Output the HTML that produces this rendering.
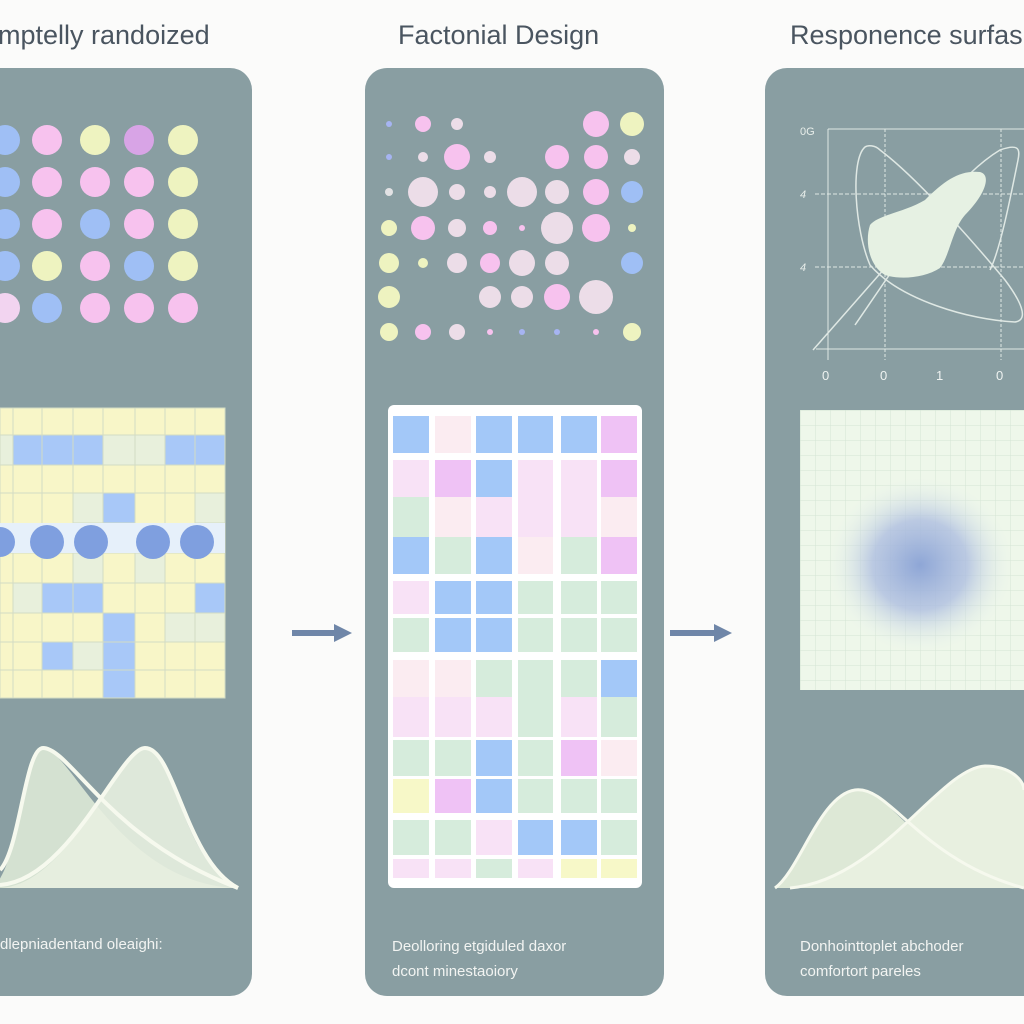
<!DOCTYPE html>
<html><head><meta charset="utf-8"><style>
html,body{margin:0;padding:0;background:#fbfbfa;}
svg{display:block;font-family:"Liberation Sans",sans-serif;}
</style></head><body>
<svg width="1024" height="1024" viewBox="0 0 1024 1024" xmlns="http://www.w3.org/2000/svg">
<rect width="1024" height="1024" fill="#fbfbfa"/>
<!-- titles -->
<text x="-2" y="44" font-size="27" fill="#4a5560">mptelly randoized</text>
<text x="398" y="44" font-size="27" fill="#4a5560">Factonial Design</text>
<text x="790" y="44" font-size="27" fill="#4a5560">Responence surfas</text>
<!-- panels -->
<rect x="-30" y="68" width="282" height="928" rx="22" fill="#899ea2"/>
<rect x="365" y="68" width="299" height="928" rx="22" fill="#899ea2"/>
<rect x="765" y="68" width="300" height="928" rx="22" fill="#899ea2"/>

<!-- panel 1 circles -->
<g>
<circle cx="5" cy="140" r="15" fill="#9fbff5"/><circle cx="47" cy="140" r="15" fill="#f7c2ee"/><circle cx="95" cy="140" r="15" fill="#eef3c0"/><circle cx="139" cy="140" r="15" fill="#d8a4e6"/><circle cx="183" cy="140" r="15" fill="#eef3c0"/>
<circle cx="5" cy="182" r="15" fill="#9fbff5"/><circle cx="47" cy="182" r="15" fill="#f7c2ee"/><circle cx="95" cy="182" r="15" fill="#f7c2ee"/><circle cx="139" cy="182" r="15" fill="#f7c2ee"/><circle cx="183" cy="182" r="15" fill="#eef3c0"/>
<circle cx="5" cy="224" r="15" fill="#9fbff5"/><circle cx="47" cy="224" r="15" fill="#f7c2ee"/><circle cx="95" cy="224" r="15" fill="#9fbff5"/><circle cx="139" cy="224" r="15" fill="#f7c2ee"/><circle cx="183" cy="224" r="15" fill="#eef3c0"/>
<circle cx="5" cy="266" r="15" fill="#9fbff5"/><circle cx="47" cy="266" r="15" fill="#eef3c0"/><circle cx="95" cy="266" r="15" fill="#f7c2ee"/><circle cx="139" cy="266" r="15" fill="#9fbff5"/><circle cx="183" cy="266" r="15" fill="#eef3c0"/>
<circle cx="5" cy="308" r="15" fill="#f2d4f0"/><circle cx="47" cy="308" r="15" fill="#9fbff5"/><circle cx="95" cy="308" r="15" fill="#f7c2ee"/><circle cx="139" cy="308" r="15" fill="#f7c2ee"/><circle cx="183" cy="308" r="15" fill="#f7c2ee"/>
</g>

<!-- panel 1 grid -->
<g stroke="#d2dcc4" stroke-width="1">
<rect x="0" y="408" width="225" height="290" fill="#f8f6c8"/>
<rect x="0" y="435" width="13" height="30" fill="#e8f0dc"/><rect x="13" y="435" width="90" height="30" fill="#a8c8f8"/><rect x="103" y="435" width="62" height="30" fill="#e8f0dc"/><rect x="165" y="435" width="60" height="30" fill="#a8c8f8"/>
<rect x="73" y="493" width="30" height="30" fill="#e8f0dc"/><rect x="103" y="493" width="32" height="30" fill="#a8c8f8"/><rect x="195" y="493" width="30" height="30" fill="#e8f0dc"/>
<rect x="73" y="553" width="30" height="30" fill="#e8f0dc"/><rect x="135" y="553" width="30" height="30" fill="#e8f0dc"/>
<rect x="13" y="583" width="29" height="30" fill="#e8f0dc"/><rect x="42" y="583" width="61" height="30" fill="#a8c8f8"/><rect x="195" y="583" width="30" height="30" fill="#a8c8f8"/>
<rect x="103" y="613" width="32" height="29" fill="#a8c8f8"/><rect x="165" y="613" width="60" height="29" fill="#e8f0dc"/>
<rect x="42" y="642" width="31" height="28" fill="#a8c8f8"/><rect x="73" y="642" width="30" height="28" fill="#e8f0dc"/><rect x="103" y="642" width="32" height="28" fill="#a8c8f8"/>
<rect x="103" y="670" width="32" height="28" fill="#a8c8f8"/>
</g>
<g stroke="#d2dcc4" stroke-width="1">
<line x1="13" y1="408" x2="13" y2="698"/><line x1="42" y1="408" x2="42" y2="698"/><line x1="73" y1="408" x2="73" y2="698"/><line x1="103" y1="408" x2="103" y2="698"/><line x1="135" y1="408" x2="135" y2="698"/><line x1="165" y1="408" x2="165" y2="698"/><line x1="195" y1="408" x2="195" y2="698"/>
<line x1="0" y1="435" x2="225" y2="435"/><line x1="0" y1="465" x2="225" y2="465"/><line x1="0" y1="493" x2="225" y2="493"/><line x1="0" y1="553" x2="225" y2="553"/><line x1="0" y1="583" x2="225" y2="583"/><line x1="0" y1="613" x2="225" y2="613"/><line x1="0" y1="642" x2="225" y2="642"/><line x1="0" y1="670" x2="225" y2="670"/>
</g>
<rect x="0" y="523" width="225" height="30" fill="#e6f0fa"/>
<g fill="#7f9fdf"><circle cx="0" cy="542" r="15"/><circle cx="47" cy="542" r="17"/><circle cx="91" cy="542" r="17"/><circle cx="153" cy="542" r="17"/><circle cx="197" cy="542" r="17"/></g>

<!-- panel 1 bells -->
<path d="M-5 885 C20 860 25 748 43 748 C70 748 120 885 238 888 L-5 888 Z" fill="#dde8d6" opacity="0.9"/>
<path d="M0 888 C70 885 120 748 145 748 C175 748 180 860 238 888 Z" fill="#e8f0e0" opacity="0.9"/>
<path d="M0 870 C20 850 25 748 43 748 C70 748 110 840 238 888" fill="none" stroke="#f6f9ee" stroke-width="4"/>
<path d="M0 885 C70 880 120 748 145 748 C175 748 185 860 238 888" fill="none" stroke="#f6f9ee" stroke-width="4"/>
<text x="0" y="949" font-size="15" fill="#f2f4f2">dlepniadentand oleaighi:</text>

<!-- panel 2 circles -->
<g>
<circle cx="389" cy="124" r="3" fill="#a6b4f2"/><circle cx="423" cy="124" r="8" fill="#f7c2ee"/><circle cx="457" cy="124" r="6" fill="#ecdde8"/><circle cx="596" cy="124" r="13" fill="#f7c2ee"/><circle cx="632" cy="124" r="12" fill="#eef3c0"/>
<circle cx="389" cy="157" r="3" fill="#a6b4f2"/><circle cx="423" cy="157" r="5" fill="#ecdde8"/><circle cx="457" cy="157" r="13" fill="#f7c2ee"/><circle cx="490" cy="157" r="6" fill="#ecdde8"/><circle cx="557" cy="157" r="12" fill="#f7c2ee"/><circle cx="596" cy="157" r="12" fill="#f7c2ee"/><circle cx="632" cy="157" r="8" fill="#ecdde8"/>
<circle cx="389" cy="192" r="4" fill="#e2e2e4"/><circle cx="423" cy="192" r="15" fill="#ecdde8"/><circle cx="457" cy="192" r="8" fill="#ecdde8"/><circle cx="490" cy="192" r="6" fill="#ecdde8"/><circle cx="522" cy="192" r="15" fill="#ecdde8"/><circle cx="557" cy="192" r="12" fill="#ecdde8"/><circle cx="596" cy="192" r="13" fill="#f7c2ee"/><circle cx="632" cy="192" r="11" fill="#9fbff5"/>
<circle cx="389" cy="228" r="8" fill="#eef3c0"/><circle cx="423" cy="228" r="12" fill="#f7c2ee"/><circle cx="457" cy="228" r="9" fill="#ecdde8"/><circle cx="490" cy="228" r="7" fill="#f7c2ee"/><circle cx="522" cy="228" r="3" fill="#f7c2ee"/><circle cx="557" cy="228" r="16" fill="#ecdde8"/><circle cx="596" cy="228" r="14" fill="#f7c2ee"/><circle cx="632" cy="228" r="4" fill="#eef3c0"/>
<circle cx="389" cy="263" r="10" fill="#eef3c0"/><circle cx="423" cy="263" r="5" fill="#eef3c0"/><circle cx="457" cy="263" r="10" fill="#ecdde8"/><circle cx="490" cy="263" r="10" fill="#f7c2ee"/><circle cx="522" cy="263" r="13" fill="#ecdde8"/><circle cx="557" cy="263" r="12" fill="#ecdde8"/><circle cx="632" cy="263" r="11" fill="#9fbff5"/>
<circle cx="389" cy="297" r="11" fill="#eef3c0"/><circle cx="490" cy="297" r="11" fill="#ecdde8"/><circle cx="522" cy="297" r="11" fill="#ecdde8"/><circle cx="557" cy="297" r="13" fill="#f7c2ee"/><circle cx="596" cy="297" r="17" fill="#ecdde8"/>
<circle cx="389" cy="332" r="9" fill="#eef3c0"/><circle cx="423" cy="332" r="8" fill="#f7c2ee"/><circle cx="457" cy="332" r="8" fill="#ecdde8"/><circle cx="490" cy="332" r="3" fill="#f7c2ee"/><circle cx="522" cy="332" r="3" fill="#a6b4f2"/><circle cx="557" cy="332" r="3" fill="#a6b4f2"/><circle cx="596" cy="332" r="3" fill="#f7c2ee"/><circle cx="632" cy="332" r="9" fill="#eef3c0"/>
</g>

<!-- panel 2 grid -->
<rect x="388" y="405" width="254" height="483" rx="6" fill="#ffffff"/>
<g>
<rect x="393" y="416" width="36" height="37" fill="#a3c8f8"/><rect x="435" y="416" width="36" height="37" fill="#fbecf1"/><rect x="476" y="416" width="36" height="37" fill="#a3c8f8"/><rect x="518" y="416" width="35" height="37" fill="#a3c8f8"/><rect x="561" y="416" width="36" height="37" fill="#a3c8f8"/><rect x="601" y="416" width="36" height="37" fill="#efc2f5"/>
<rect x="393" y="460" width="36" height="37" fill="#f8e2f6"/><rect x="435" y="460" width="36" height="37" fill="#efc2f5"/><rect x="476" y="460" width="36" height="37" fill="#a3c8f8"/><rect x="518" y="460" width="35" height="37" fill="#f8e2f6"/><rect x="561" y="460" width="36" height="37" fill="#f8e2f6"/><rect x="601" y="460" width="36" height="37" fill="#efc2f5"/>
<rect x="393" y="497" width="36" height="40" fill="#d6ecdc"/><rect x="435" y="497" width="36" height="40" fill="#fbecf1"/><rect x="476" y="497" width="36" height="40" fill="#f8e2f6"/><rect x="518" y="497" width="35" height="40" fill="#f8e2f6"/><rect x="561" y="497" width="36" height="40" fill="#f8e2f6"/><rect x="601" y="497" width="36" height="40" fill="#fbecf1"/>
<rect x="393" y="537" width="36" height="37" fill="#a3c8f8"/><rect x="435" y="537" width="36" height="37" fill="#d6ecdc"/><rect x="476" y="537" width="36" height="37" fill="#a3c8f8"/><rect x="518" y="537" width="35" height="37" fill="#fbecf1"/><rect x="561" y="537" width="36" height="37" fill="#d6ecdc"/><rect x="601" y="537" width="36" height="37" fill="#efc2f5"/>
<rect x="393" y="581" width="36" height="33" fill="#f8e2f6"/><rect x="435" y="581" width="36" height="33" fill="#a3c8f8"/><rect x="476" y="581" width="36" height="33" fill="#a3c8f8"/><rect x="518" y="581" width="35" height="33" fill="#d6ecdc"/><rect x="561" y="581" width="36" height="33" fill="#d6ecdc"/><rect x="601" y="581" width="36" height="33" fill="#d6ecdc"/>
<rect x="393" y="618" width="36" height="34" fill="#d6ecdc"/><rect x="435" y="618" width="36" height="34" fill="#a3c8f8"/><rect x="476" y="618" width="36" height="34" fill="#a3c8f8"/><rect x="518" y="618" width="35" height="34" fill="#d6ecdc"/><rect x="561" y="618" width="36" height="34" fill="#d6ecdc"/><rect x="601" y="618" width="36" height="34" fill="#d6ecdc"/>
<rect x="393" y="660" width="36" height="37" fill="#fbecf1"/><rect x="435" y="660" width="36" height="37" fill="#fbecf1"/><rect x="476" y="660" width="36" height="37" fill="#d6ecdc"/><rect x="518" y="660" width="35" height="37" fill="#d6ecdc"/><rect x="561" y="660" width="36" height="37" fill="#d6ecdc"/><rect x="601" y="660" width="36" height="37" fill="#a3c8f8"/>
<rect x="393" y="697" width="36" height="40" fill="#f8e2f6"/><rect x="435" y="697" width="36" height="40" fill="#f8e2f6"/><rect x="476" y="697" width="36" height="40" fill="#f8e2f6"/><rect x="518" y="697" width="35" height="40" fill="#d6ecdc"/><rect x="561" y="697" width="36" height="40" fill="#f8e2f6"/><rect x="601" y="697" width="36" height="40" fill="#d6ecdc"/>
<rect x="393" y="740" width="36" height="36" fill="#d6ecdc"/><rect x="435" y="740" width="36" height="36" fill="#d6ecdc"/><rect x="476" y="740" width="36" height="36" fill="#a3c8f8"/><rect x="518" y="740" width="35" height="36" fill="#d6ecdc"/><rect x="561" y="740" width="36" height="36" fill="#efc2f5"/><rect x="601" y="740" width="36" height="36" fill="#fbecf1"/>
<rect x="393" y="779" width="36" height="34" fill="#f7f8c8"/><rect x="435" y="779" width="36" height="34" fill="#efc2f5"/><rect x="476" y="779" width="36" height="34" fill="#a3c8f8"/><rect x="518" y="779" width="35" height="34" fill="#d6ecdc"/><rect x="561" y="779" width="36" height="34" fill="#d6ecdc"/><rect x="601" y="779" width="36" height="34" fill="#d6ecdc"/>
<rect x="393" y="820" width="36" height="35" fill="#d6ecdc"/><rect x="435" y="820" width="36" height="35" fill="#d6ecdc"/><rect x="476" y="820" width="36" height="35" fill="#f8e2f6"/><rect x="518" y="820" width="35" height="35" fill="#a3c8f8"/><rect x="561" y="820" width="36" height="35" fill="#a3c8f8"/><rect x="601" y="820" width="36" height="35" fill="#d6ecdc"/>
<rect x="393" y="859" width="36" height="19" fill="#f8e2f6"/><rect x="435" y="859" width="36" height="19" fill="#f8e2f6"/><rect x="476" y="859" width="36" height="19" fill="#d6ecdc"/><rect x="518" y="859" width="35" height="19" fill="#f8e2f6"/><rect x="561" y="859" width="36" height="19" fill="#f7f8c8"/><rect x="601" y="859" width="36" height="19" fill="#f7f8c8"/>
</g>
<text x="392" y="951" font-size="15" fill="#f2f4f2">Deolloring etgiduled daxor</text>
<text x="392" y="976" font-size="15" fill="#f2f4f2">dcont minestaoiory</text>

<!-- arrows -->
<g fill="#6f86a8">
<rect x="292" y="630" width="44" height="6"/><polygon points="334,624 352,633 334,642"/>
<rect x="670" y="630" width="46" height="6"/><polygon points="714,624 732,633 714,642"/>
</g>

<!-- panel 3 plot -->
<g stroke="#dfe8e4" stroke-width="1" fill="none">
<line x1="828" y1="129" x2="1024" y2="129"/><line x1="828" y1="129" x2="828" y2="360"/>
<line x1="816" y1="349" x2="1024" y2="349"/>
<line x1="885" y1="129" x2="885" y2="360" stroke-dasharray="3 2"/><line x1="1001" y1="129" x2="1001" y2="360" stroke-dasharray="3 2"/>
<line x1="815" y1="194" x2="1024" y2="194" stroke-dasharray="4 2"/><line x1="815" y1="267" x2="1024" y2="267" stroke-dasharray="4 2"/>
<path d="M865 147 C850 160 855 230 870 265 C900 300 970 320 1015 322 C1030 320 1020 300 1005 280 C980 250 920 180 880 150 C875 145 868 145 865 147 Z" stroke-width="1.5"/>
<path d="M855 325 C900 260 950 180 1000 150 C1020 143 1020 150 1018 160 C1010 200 1000 250 990 270" stroke-width="1.5"/>
<line x1="813" y1="350" x2="885" y2="268" stroke-width="1.5"/>
</g>
<path d="M870 225 C878 215 905 212 925 200 C945 180 960 170 980 172 C992 175 985 195 965 215 C952 230 950 255 940 268 C925 278 900 280 885 275 C868 265 865 240 870 225 Z" fill="#e6f1e3"/>
<g font-size="11" fill="#e8eeea">
<text x="800" y="135">0G</text><text x="800" y="198" font-style="italic">4</text><text x="800" y="271" font-style="italic">4</text>
</g>
<g font-size="13" fill="#eef2f0">
<text x="822" y="380">0</text><text x="880" y="380">0</text><text x="936" y="380">1</text><text x="996" y="380">0</text>
</g>

<!-- panel 3 grid -->
<defs>
<radialGradient id="cl" cx="0.5" cy="0.5" r="0.5">
<stop offset="0" stop-color="#8ea6d6"/><stop offset="0.5" stop-color="#aebee0" stop-opacity="0.8"/><stop offset="1" stop-color="#eef7ea" stop-opacity="0"/>
</radialGradient>
<pattern id="gp" x="800" y="410" width="15" height="15" patternUnits="userSpaceOnUse">
<path d="M15 0 L0 0 0 15" fill="none" stroke="#d4e4d4" stroke-width="1"/>
</pattern>
</defs>
<rect x="800" y="410" width="224" height="280" fill="#eef7ea"/>
<rect x="800" y="410" width="224" height="280" fill="url(#gp)"/>
<ellipse cx="920" cy="565" rx="95" ry="90" fill="url(#cl)"/>

<!-- panel 3 bells -->
<path d="M775 888 C800 870 820 795 855 790 C890 785 900 850 1024 888 Z" fill="#dde8d6"/>
<path d="M790 888 C880 880 940 768 985 766 C1010 766 1024 780 1024 790 L1024 888 Z" fill="#e8f0e0"/>
<path d="M775 888 C800 870 820 795 855 790 C890 785 920 860 1024 888" fill="none" stroke="#f6f9ee" stroke-width="3"/>
<path d="M790 888 C880 880 940 768 985 766 C1010 766 1024 780 1024 790" fill="none" stroke="#f6f9ee" stroke-width="3"/>
<text x="800" y="951" font-size="15" fill="#f2f4f2">Donhointtoplet abchoder</text>
<text x="800" y="976" font-size="15" fill="#f2f4f2">comfortort pareles</text>
</svg>
</body></html>
